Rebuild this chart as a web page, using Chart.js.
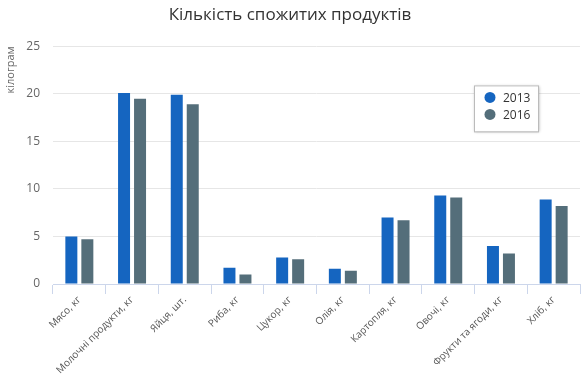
<!DOCTYPE html>
<html><head><meta charset="utf-8">
<script src="https://cdn.jsdelivr.net/npm/chart.js@4/dist/chart.umd.min.js"></script>
<style>html,body{margin:0;padding:0;background:#fff}#wrap{width:582px;height:375px;position:relative}</style>
</head><body><div id="wrap"><canvas id="c" width="582" height="375"></canvas></div>
<script>
const categories = ["Мясо, кг","Молочні продукти, кг","Яйця, шт.","Риба, кг","Цукор, кг","Олія, кг","Картопля, кг","Овочі, кг","Фрукти та ягоди, кг","Хліб, кг"];
const seriesNames = ["2013","2016"];
const values2013 = [5.0,20.1,19.9,1.7,2.8,1.6,7.0,9.3,4.0,8.9];
const values2016 = [4.7,19.5,18.9,1.0,2.6,1.4,6.7,9.1,3.2,8.2];
const title = "Кількість спожитих продуктів";
const yTitle = "кілограм";
const colors = ["#1565c0","#546e7a"];
const FONT = "'Open Sans', sans-serif";

const legendPlugin = {
  id: 'boxLegend',
  afterDraw(chart){
    const ctx = chart.ctx;
    const ca = chart.chartArea;
    const x = ca.right - 106, y = ca.top + 39, w = 64, h = 46;
    ctx.save();
    ctx.shadowColor = 'rgba(0,0,0,0.35)';
    ctx.shadowBlur = 3; ctx.shadowOffsetX = 1; ctx.shadowOffsetY = 1;
    ctx.fillStyle = '#fff';
    ctx.fillRect(x, y, w, h);
    ctx.restore();
    ctx.save();
    ctx.strokeStyle = '#bbb'; ctx.lineWidth = 1;
    ctx.strokeRect(x+0.5, y+0.5, w, h);
    chart.data.datasets.forEach((ds,i)=>{
      const cy = y + 12 + i*17;
      ctx.beginPath();
      ctx.fillStyle = ds.backgroundColor;
      ctx.arc(x+16, cy, 5.5, 0, Math.PI*2);
      ctx.fill();
      ctx.fillStyle = '#333';
      ctx.font = "12px " + FONT;
      ctx.textBaseline = 'middle';
      ctx.fillText(ds.label, x+29, cy+1);
    });
    ctx.restore();
  }
};

new Chart(document.getElementById('c'), {
  type: 'bar',
  data: {
    labels: categories,
    datasets: [
      {label: seriesNames[0], data: values2013, backgroundColor: colors[0]},
      {label: seriesNames[1], data: values2016, backgroundColor: colors[1]}
    ]
  },
  options: {
    responsive: false,
    animation: false,
    devicePixelRatio: 1,
    categoryPercentage: 0.607,
    barPercentage: 0.75,
    layout: {padding: {left: 0, right: 2, top: 0, bottom: 0}},
    plugins: {
      legend: {display: false},
      tooltip: {enabled: false},
      title: {display: true, text: title, color: '#333', font: {family: FONT, size: 17, weight: 'normal'}, padding: {top: 5, bottom: 21}}
    },
    scales: {
      x: {
        grid: {display: true, drawOnChartArea: false, drawTicks: true, tickLength: 10, color: '#ccd6eb', offset: true},
        border: {display: true, color: '#ccd6eb'},
        ticks: {color: '#555', font: {family: FONT, size: 10}, minRotation: 45, maxRotation: 45, padding: 0, autoSkip: false},
        afterFit(s){ s.height = 91; }
      },
      y: {
        min: 0, max: 25,
        ticks: {stepSize: 5, color: '#666', font: {family: FONT, size: 12}, padding: 13},
        grid: {color: '#e6e6e6', drawTicks: false},
        border: {display: false},
        title: {display: true, text: yTitle, align: 'end', color: '#666', font: {family: FONT, size: 11}, padding: {top: 4, bottom: 0}},
        afterFit(s){ s.width = 53; }
      }
    }
  },
  plugins: [legendPlugin]
});
</script>
</body></html>
